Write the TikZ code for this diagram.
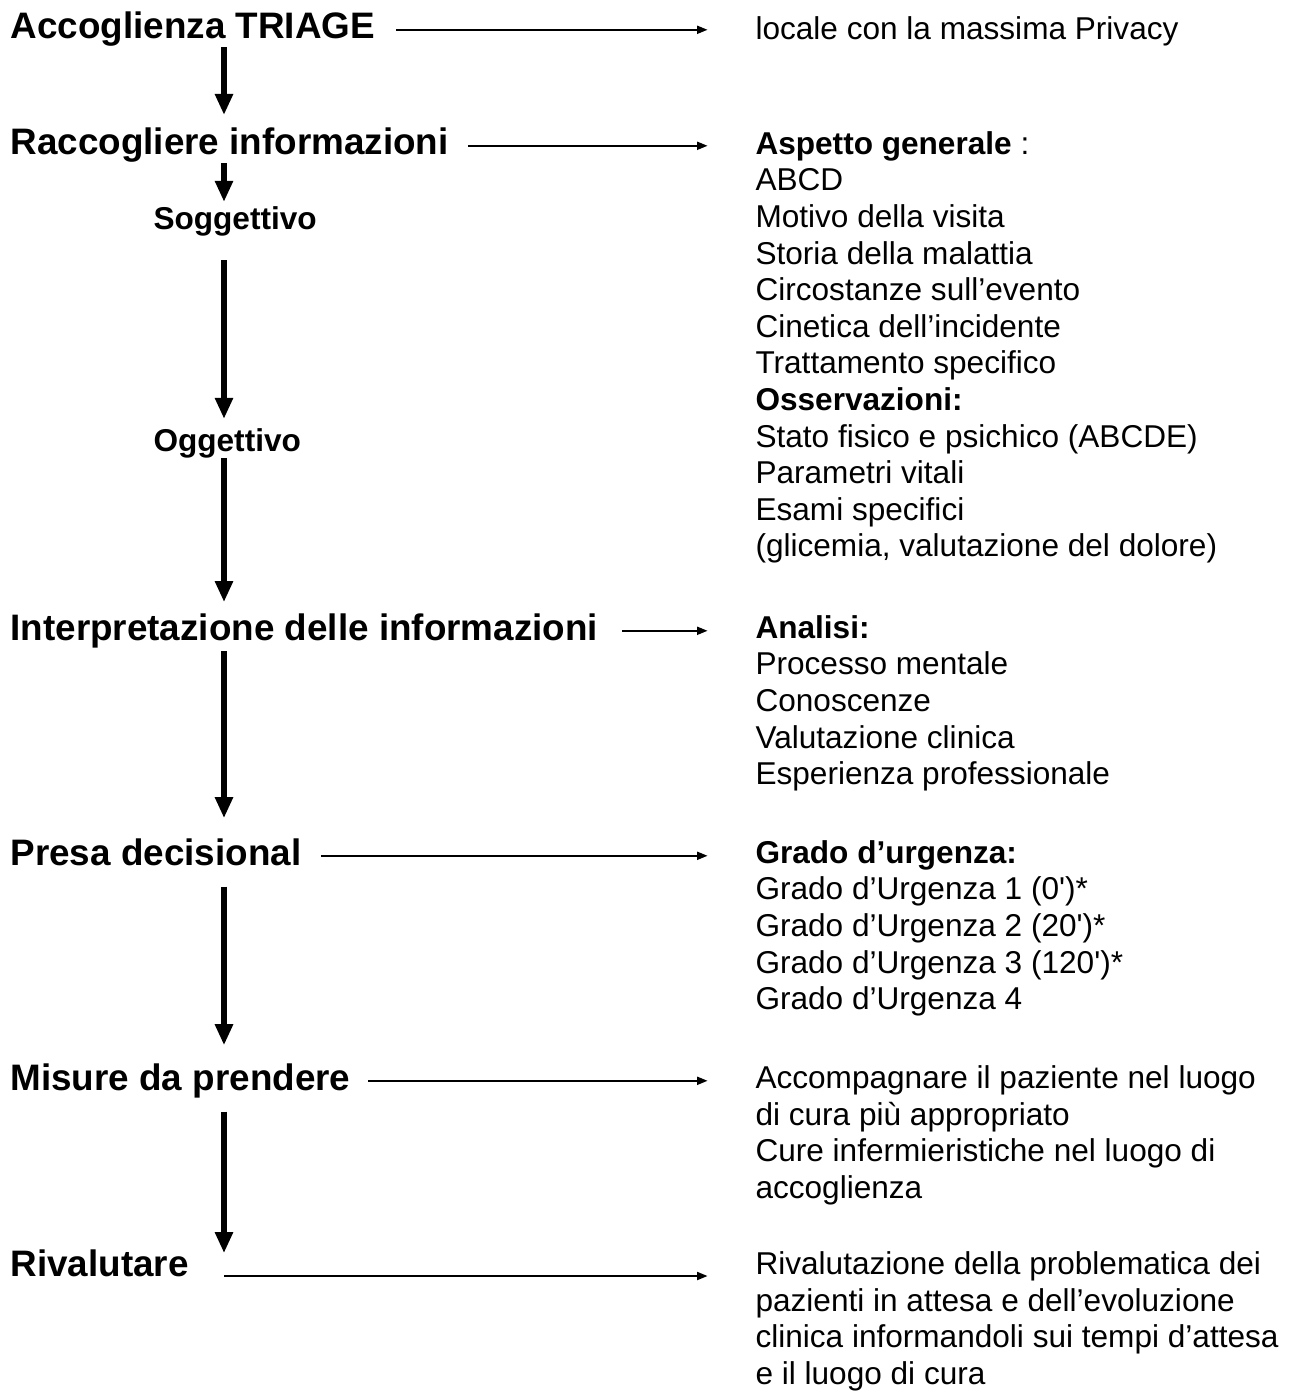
\documentclass[tikz,border=0pt]{standalone}
\usepackage{fontspec}
\setmainfont{Liberation Sans}
\usetikzlibrary{arrows.meta,calc}

\begin{document}
\begin{tikzpicture}[x=0.38pt, y=-0.38pt,
    head/.style={anchor=base west, inner sep=0pt, font=\fontsize{14}{16}\selectfont\bfseries, text height=10pt, text depth=3pt},
    sub/.style={anchor=base west, inner sep=0pt, font=\fontsize{12}{14}\selectfont\bfseries, text height=8.6pt, text depth=2.6pt},
    info/.style={anchor=north west, yshift=9.5pt, inner sep=0pt, align=left, font=\fontsize{12}{13.9}\selectfont, execute at begin node={\rule{0pt}{9.5pt}}},
    down/.style={line width=2.3pt, -{Triangle[length=8pt,width=6.5pt]}},
    link/.style={line width=0.8pt, -{Triangle[length=4pt,width=3pt]}}]
    \useasboundingbox (0,0) rectangle (1301,1399);
    \coordinate (spine) at (224,0);
    \node[head] (acc) at (10,39) {Accoglienza TRIAGE};
    \node[head] (rac) at (10,155) {Raccogliere informazioni};
    \node[sub] (sog) at (153,229) {Soggettivo};
    \node[sub] (ogg) at (153,451) {Oggettivo};
    \node[head] (int) at (10,640) {Interpretazione delle informazioni};
    \node[head] (pre) at (10,865) {Presa decisional};
    \node[head] (mis) at (10,1090) {Misure da prendere};
    \node[head] (riv) at (10,1276) {Rivalutare};
    \node[info] (loc) at (755,39) {locale con la massima Privacy};
    \node[info] (asp) at (755,156) {\textbf{Aspetto generale} :\\ABCD\\Motivo della visita\\Storia della malattia\\Circostanze sull’evento\\Cinetica dell’incidente\\Trattamento specifico\\\textbf{Osservazioni:}\\Stato fisico e psichico (ABCDE)\\Parametri vitali\\Esami specifici\\(glicemia, valutazione del dolore)};
    \node[info] (ana) at (755,640) {\textbf{Analisi:}\\Processo mentale\\Conoscenze\\Valutazione clinica\\Esperienza professionale};
    \node[info] (gra) at (755,865) {\textbf{Grado d’urgenza:}\\Grado d’Urgenza 1 (0\textquotesingle)*\\Grado d’Urgenza 2 (20\textquotesingle)*\\Grado d’Urgenza 3 (120\textquotesingle)*\\Grado d’Urgenza 4};
    \node[info] (cur) at (755,1090) {Accompagnare il paziente nel luogo\\di cura più appropriato\\Cure infermieristiche nel luogo di\\accoglienza};
    \node[info] (rvl) at (755,1276) {Rivalutazione della problematica dei\\pazienti in attesa e dell’evoluzione\\clinica informandoli sui tempi d’attesa\\e il luogo di cura};
    \draw[down, shorten >=5pt] (acc.south -| spine) -- (rac.north -| spine);
    \draw[down, shorten >=1.5pt] (rac.south -| spine) -- (sog.north -| spine);
    \draw[down, shorten <=9pt, shorten >=3.4pt] (sog.south -| spine) -- (ogg.north -| spine);
    \draw[down, shorten >=4.2pt] (ogg.south -| spine) -- (int.north -| spine);
    \draw[down, shorten <=1pt, shorten >=7.6pt] (int.south -| spine) -- (pre.north -| spine);
    \draw[down, shorten <=5pt, shorten >=6.8pt] (pre.south -| spine) -- (mis.north -| spine);
    \draw[down, shorten <=5pt, shorten >=-1.5pt] (mis.south -| spine) -- (riv.north -| spine);
    \draw[link, shorten <=8pt, shorten >=18pt] (acc.east) -- (acc.east -| loc.west);
    \draw[link, shorten <=7.2pt, shorten >=18pt] (rac.east) -- (rac.east -| asp.west);
    \draw[link, shorten <=9pt, shorten >=18pt] (int.east) -- (int.east -| ana.west);
    \draw[link, shorten <=7.2pt, shorten >=18pt] (pre.east) -- (pre.east -| gra.west);
    \draw[link, shorten <=6.5pt, shorten >=18pt] (mis.east) -- (mis.east -| cur.west);
    \draw[link, shorten <=13.3pt, shorten >=18pt] (riv.base east) -- (riv.base east -| rvl.west);
\end{tikzpicture}
\end{document}
